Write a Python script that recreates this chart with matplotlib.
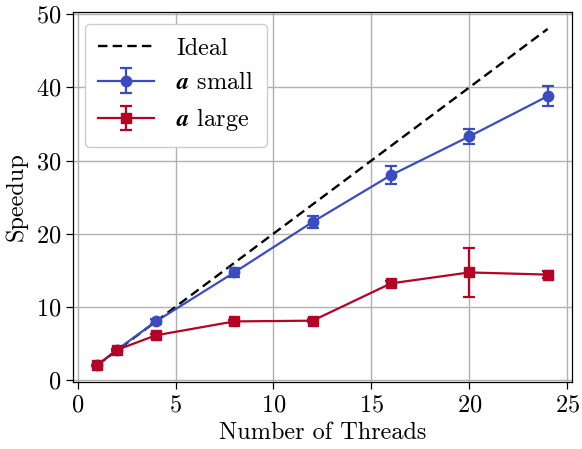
import matplotlib
matplotlib.use("Agg")
import matplotlib.pyplot as plt

threads = [1, 2, 4, 8, 12, 16, 20, 24]
ideal = [2, 4, 8, 16, 24, 32, 40, 48]
small = [2.0, 4.1, 8.0, 14.7, 21.6, 28.0, 33.3, 38.8]
small_err = [0.1, 0.15, 0.3, 0.6, 0.8, 1.2, 1.0, 1.4]
large = [2.0, 4.1, 6.1, 8.0, 8.1, 13.2, 14.7, 14.4]
large_err = [0.1, 0.1, 0.2, 0.2, 0.2, 0.3, 3.4, 0.5]

plt.rcParams['font.family'] = ['cmr10', 'DejaVu Serif']
plt.rcParams['mathtext.fontset'] = 'cm'
plt.rcParams['axes.formatter.use_mathtext'] = True
plt.rcParams['font.size'] = 17.5

fig, ax = plt.subplots(figsize=(5.82, 4.49), dpi=100)
ax.grid(True, color='#b0b0b0', lw=1.0)
ax.set_axisbelow(True)

ax.plot(threads, ideal, '--', color='black', lw=1.7, dashes=(4, 2.2), label='Ideal')
ax.errorbar(threads, small, yerr=small_err, color='#3b4cc0', marker='o', ms=7.5,
            lw=1.6, capsize=4, capthick=1.6, label=r'$\boldsymbol{a}$ small')
ax.errorbar(threads, large, yerr=large_err, color='#b40426', marker='s', ms=7.5,
            lw=1.6, capsize=4, capthick=1.6, label=r'$\boldsymbol{a}$ large')

ax.set_xlim(-0.25, 25.25)
ax.set_ylim(-0.3, 50.3)
ax.set_xticks([0, 5, 10, 15, 20, 25])
ax.set_yticks([0, 10, 20, 30, 40, 50])
ax.set_xlabel('Number of Threads', fontsize=17.5, labelpad=4)
ax.set_ylabel('Speedup', fontsize=17.5, labelpad=6)
for s in ax.spines.values():
    s.set_color('black')
    s.set_linewidth(0.9)
ax.tick_params(direction='out', length=5, width=0.9, colors='black', labelsize=17.5)

leg = ax.legend(loc='upper left', frameon=True, fancybox=True, edgecolor='#cccccc',
                framealpha=1.0, handlelength=2.3, handletextpad=0.9, fontsize=17.5,
                borderaxespad=0.5, borderpad=0.55, labelspacing=0.5)

fig.subplots_adjust(left=0.125, right=0.983, top=0.973, bottom=0.149)
fig.savefig('out.png', dpi=100)
